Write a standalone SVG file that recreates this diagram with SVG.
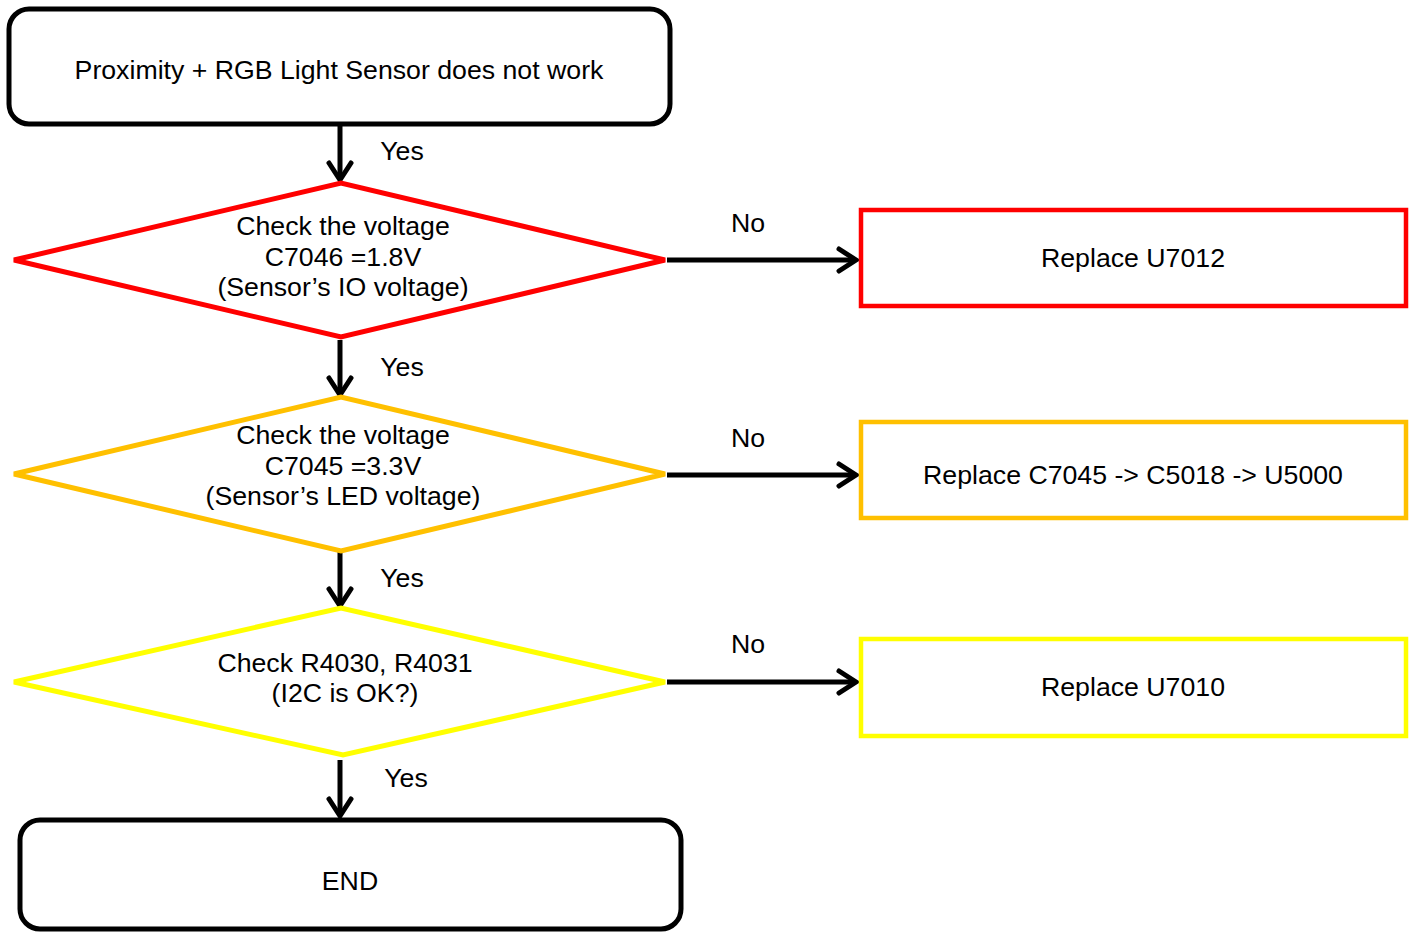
<svg xmlns="http://www.w3.org/2000/svg" width="1414" height="932" viewBox="0 0 1414 932">
<defs>
<style>
text{font-family:"Liberation Sans",Arial,sans-serif;font-size:26.7px;fill:#000;text-anchor:middle;dominant-baseline:central}
.term{fill:#fff;stroke:#000;stroke-width:5}
.dia{fill:#fff;stroke-width:5;stroke-linejoin:miter}
.box{fill:#fff;stroke-width:4.5}
.red{stroke:#FF0000}
.orange{stroke:#FFC000}
.yellow{stroke:#FFFF00}
.conn{fill:none;stroke:#000;stroke-width:5;marker-end:url(#arr)}
</style>
<marker id="arr" markerUnits="userSpaceOnUse" markerWidth="40" markerHeight="40" viewBox="-30 -20 40 40" refX="0" refY="0" orient="auto" overflow="visible">
<path d="M-17,-11 L0,0 L-17,11" fill="none" stroke="#000" stroke-width="5" stroke-linecap="round" stroke-linejoin="miter"/>
</marker>
</defs>
<rect width="1414" height="932" fill="#fff"/>
<g id="connectors">
<line class="conn" x1="340" y1="124" x2="340" y2="180"/>
<line class="conn" x1="340" y1="340" x2="340" y2="395"/>
<line class="conn" x1="340" y1="551" x2="340" y2="606"/>
<line class="conn" x1="340" y1="760" x2="340" y2="816"/>
<line class="conn" x1="667" y1="260" x2="856" y2="260"/>
<line class="conn" x1="667" y1="475" x2="856" y2="475"/>
<line class="conn" x1="667" y1="682" x2="856" y2="682"/>
<text x="402" y="151">Yes</text>
<text x="402" y="367">Yes</text>
<text x="402" y="578">Yes</text>
<text x="406" y="778">Yes</text>
<text x="748" y="223">No</text>
<text x="748" y="438">No</text>
<text x="748" y="644">No</text>
</g>
<g id="start">
<rect class="term" x="9" y="9" width="661" height="115" rx="20"/>
<text x="339" y="70">Proximity + RGB Light Sensor does not work</text>
</g>
<g id="check-io">
<polygon class="dia red" points="14,260 341,183 665,260 341,337"/>
<text x="343" y="226">Check the voltage</text>
<text x="343" y="257">C7046 =1.8V</text>
<text x="343" y="287">(Sensor’s IO voltage)</text>
</g>
<g id="replace-u7012">
<rect class="box red" x="861" y="210" width="545" height="96"/>
<text x="1133" y="258">Replace U7012</text>
</g>
<g id="check-led">
<polygon class="dia orange" points="14,474 341,397 665,474 341,551"/>
<text x="343" y="435">Check the voltage</text>
<text x="343" y="466">C7045 =3.3V</text>
<text x="343" y="496">(Sensor’s LED voltage)</text>
</g>
<g id="replace-c7045">
<rect class="box orange" x="861" y="422" width="545" height="96"/>
<text x="1133" y="475">Replace C7045 -&gt; C5018 -&gt; U5000</text>
</g>
<g id="check-i2c">
<polygon class="dia yellow" points="14,682 341,608 665,682 343,755"/>
<text x="345" y="663">Check R4030, R4031</text>
<text x="345" y="693">(I2C is OK?)</text>
</g>
<g id="replace-u7010">
<rect class="box yellow" x="861" y="639" width="545" height="97"/>
<text x="1133" y="687">Replace U7010</text>
</g>
<g id="end">
<rect class="term" x="20" y="820" width="661" height="109" rx="20"/>
<text x="350" y="881">END</text>
</g>
</svg>
